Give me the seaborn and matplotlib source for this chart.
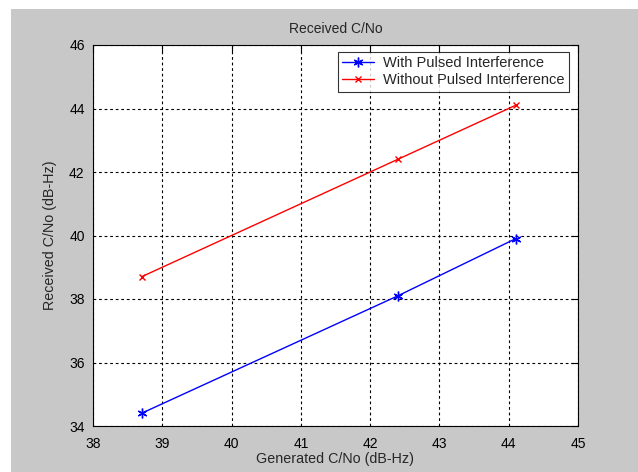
import matplotlib
matplotlib.use("Agg")
import matplotlib.pyplot as plt
import seaborn as sns
import pandas as pd
from matplotlib.patches import Rectangle

generated = [38.7, 42.4, 44.1]
with_pulsed = [34.4, 38.1, 39.9]
without_pulsed = [38.7, 42.4, 44.1]
series_names = ["With Pulsed Interference", "Without Pulsed Interference"]
series_colors = ["#0000ff", "#ff0000"]
series_markers = [(6, 2, 0), "x"]
series_msize = [7, 5]
x_ticks = [38, 39, 40, 41, 42, 43, 44, 45]
y_ticks = [34, 36, 38, 40, 42, 44, 46]

df = pd.DataFrame({
    "Generated": generated * 2,
    "Received": with_pulsed + without_pulsed,
    "Series": [series_names[0]] * 3 + [series_names[1]] * 3,
})

sns.set_style("white")
plt.rcParams["font.family"] = ["Liberation Sans", "DejaVu Sans"]

fig = plt.figure(figsize=(6.38, 4.72), dpi=100)
fig.patch.set_facecolor("white")
W, H = 638, 472
fig.patches.append(Rectangle((11 / W, 0), (638 - 11) / W, (472 - 9) / H,
                             transform=fig.transFigure, facecolor="#c8c8c8",
                             edgecolor="none", zorder=-10))

ax = fig.add_axes([93 / W, 1 - 426 / H, (578 - 93) / W, (426 - 45) / H])
ax.set_facecolor("white")

for name, col, mk, ms in zip(series_names, series_colors, series_markers, series_msize):
    sub = df[df["Series"] == name]
    sns.lineplot(data=sub, x="Generated", y="Received", color=col, marker=mk,
                 markersize=ms, linewidth=1.0, markeredgewidth=1.0,
                 markeredgecolor=col, label=name, ax=ax)

ax.set_xlim(38, 45)
ax.set_ylim(34, 46)
ax.set_xticks(x_ticks)
ax.set_yticks(y_ticks)
ax.tick_params(direction="in", length=5, width=0.8, top=True, right=True,
               labelsize=10, colors="black", pad=8)
ax.tick_params(axis="y", pad=6)
ax.grid(True, color="black", linestyle=(0, (2.5, 2.5)), linewidth=0.8)
for s in ax.spines.values():
    s.set_color("black")
    s.set_linewidth(0.8)

ax.set_title("Received C/No", fontsize=10, pad=9)
ax.set_xlabel("Generated C/No (dB-Hz)", fontsize=10.3, labelpad=1)
ax.set_ylabel("Received C/No (dB-Hz)", fontsize=10.3, labelpad=9)

leg = ax.legend(loc="upper right", bbox_to_anchor=(1 - 9 / 485, 1 - 7 / 381),
                fontsize=10.5, frameon=True, fancybox=False, edgecolor="black",
                borderpad=0.3, handlelength=2.2, handletextpad=0.6,
                labelspacing=0.2, borderaxespad=0.0)
leg.get_frame().set_linewidth(0.8)

fig.savefig("out.png", dpi=100, facecolor=fig.get_facecolor())
